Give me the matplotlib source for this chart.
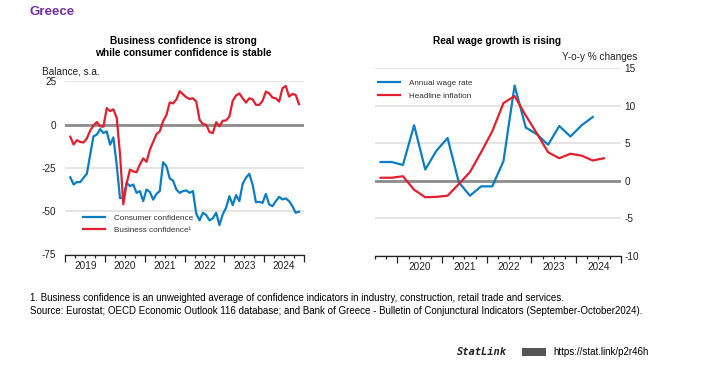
import numpy as np
import pandas as pd
import matplotlib
matplotlib.use("Agg")
import matplotlib.pyplot as plt
from matplotlib.patches import Rectangle

plt.rcParams['font.family'] = ['Liberation Sans', 'DejaVu Sans']
plt.rcParams['axes.unicode_minus'] = False

BLUE = '#0b7dc3'
RED = '#e0202e'

# ---- data: monthly confidence balances, Feb 2019 - Nov 2024 ----
consumer_conf = [-30.4, -34.6, -33.2, -33.2, -30.7, -28.4, -17.4, -6.8, -5.8, -2.6,
                 -4.9, -3.9, -11.6, -7.4, -23.1, -42.5, -42.0, -33.6, -35.5, -34.6,
                 -39.4, -38.4, -44.2, -37.5, -38.9, -43.3, -40.0, -38.4, -21.7, -24.0,
                 -31.1, -32.3, -37.5, -39.4, -38.4, -38.0, -39.4, -38.4, -51.5, -55.3,
                 -50.9, -52.2, -55.3, -54.1, -50.9, -58.0, -51.8, -48.0, -41.3, -46.5,
                 -40.7, -44.2, -34.2, -30.7, -28.4, -34.6, -44.8, -44.6, -45.2, -40.0,
                 -46.1, -47.1, -44.2, -41.7, -43.2, -42.6, -44.2, -47.1, -50.9, -50.3]
business_conf = [-7.0, -11.5, -9.0, -10.0, -10.3, -8.0, -3.5, -0.5, 1.5, -1.0,
                 -1.2, 9.5, 7.8, 8.8, 4.0, -17.0, -46.0, -34.0, -26.0, -27.0,
                 -27.5, -23.0, -19.5, -21.5, -14.5, -10.0, -5.5, -3.8, 2.0, 5.5,
                 12.8, 12.2, 14.5, 19.3, 17.5, 15.8, 14.8, 15.2, 13.3, 2.8,
                 0.3, -0.1, -4.3, -4.9, 1.4, -1.0, 2.2, 2.4, 4.7, 13.7,
                 16.8, 18.0, 15.2, 12.7, 15.2, 14.6, 11.4, 11.4, 13.7, 19.0,
                 18.0, 15.6, 15.2, 13.3, 21.0, 22.3, 16.2, 17.7, 17.1, 11.8]

# ---- data: quarterly y-o-y % changes, from 2019Q3 ----
wage_rate = [2.5, 2.5, 2.1, 7.4, 1.5, 4.0, 5.7, -0.2, -2.0, -0.75,
             -0.75, 2.6, 12.7, 7.1, 6.2, 4.8, 7.3, 5.9, 7.4, 8.5]
inflation = [0.4, 0.4, 0.6, -1.2, -2.2, -2.15, -2.0, -0.45, 1.15, 3.8,
             6.6, 10.35, 11.3, 8.7, 6.3, 3.8, 3.0, 3.6, 3.35, 2.7, 3.0]

years = [2019, 2020, 2021, 2022, 2023, 2024]

months = pd.date_range('2019-02-01', periods=len(consumer_conf), freq='MS')
t_month = months.year + (months.month - 0.5) / 12
quarters = pd.period_range('2019Q3', periods=len(inflation), freq='Q')
t_quarter = quarters.year + (quarters.quarter - 0.5) / 4

W, H = 705, 373
fig = plt.figure(figsize=(W / 100, H / 100), dpi=100)


def px(x, y):
    return x / W, 1 - y / H


def style_axes(ax, x0, x1, label_years):
    for s in ['top', 'left', 'right']:
        ax.spines[s].set_visible(False)
    ax.spines['bottom'].set_color('#222222')
    ax.spines['bottom'].set_linewidth(0.9)
    ax.set_xlim(x0, x1)
    ax.set_xticks(np.arange(np.ceil(x0), x1 + 0.01, 1))
    ax.set_xticks(np.arange(x0, x1 + 0.01, 0.25), minor=True)
    ax.tick_params(axis='x', which='major', length=5, width=0.9, color='#222222', labelbottom=False)
    ax.tick_params(axis='x', which='minor', length=2.5, width=0.9, color='#222222')
    ax.tick_params(axis='y', length=0, labelsize=7.2, colors='#222222')
    ax.grid(axis='y', color='#dedede', lw=1.1)
    ax.set_axisbelow(True)
    ax.axhline(0, color='#8c8c8c', lw=2.0, zorder=1.5)
    for yr in label_years:
        ax.text(yr + 0.5, -0.035, str(yr), transform=ax.get_xaxis_transform(),
                ha='center', va='top', fontsize=7.2, color='#222222')


leg_kw = dict(loc='upper left', frameon=False, fontsize=5.9, handlelength=2.7,
              handletextpad=1.1, labelspacing=0.6, borderpad=0, borderaxespad=0,
              labelcolor='#333333')

# ---- left panel ----
axl = fig.add_axes([65.3 / W, 1 - 254.5 / H, 238.7 / W, 173.2 / H])
style_axes(axl, 2019, 2025, years)
axl.set_ylim(-75, 25)
axl.set_yticks([-75, -50, -25, 0, 25])
axl.tick_params(axis='y', pad=6.5)
axl.plot(t_month, consumer_conf, color=BLUE, lw=1.6, label='Consumer confidence', zorder=3)
axl.plot(t_month, business_conf, color=RED, lw=1.6, label='Business confidence\u00b9', zorder=3)
axl.legend(bbox_to_anchor=(0.074, 0.235), **leg_kw)

# ---- right panel ----
axr = fig.add_axes([375 / W, 1 - 255.7 / H, 245.7 / W, 187.4 / H])
style_axes(axr, 2019.5, 2025, years[1:])
axr.set_ylim(-10, 15)
axr.set_yticks([-10, -5, 0, 5, 10, 15])
axr.yaxis.tick_right()
axr.tick_params(axis='y', pad=2.5)
axr.plot(t_quarter[:len(wage_rate)], wage_rate, color=BLUE, lw=1.6, label='Annual wage rate', zorder=3)
axr.plot(t_quarter, inflation, color=RED, lw=1.6, label='Headline inflation', zorder=3)
axr.legend(bbox_to_anchor=(0.012, 0.94), **leg_kw)

# ---- texts ----
fig.text(*px(30, 12), 'Greece', fontsize=9.6, fontweight='bold', color='#7030a0', va='center')
fig.text(*px(183, 47), 'Business confidence is strong\nwhile consumer confidence is stable',
         fontsize=7.3, fontweight='bold', ha='center', va='center', linespacing=1.25)
fig.text(*px(497, 41), 'Real wage growth is rising', fontsize=7.3, fontweight='bold',
         ha='center', va='center')
fig.text(*px(42, 71), 'Balance, s.a.', fontsize=7.2, va='center', color='#222222')
fig.text(*px(637, 57), 'Y-o-y % changes', fontsize=7.2, va='center', ha='right', color='#222222')

fig.text(*px(30, 298), '1. Business confidence is an unweighted average of confidence indicators in '
         'industry, construction, retail trade and services.', fontsize=7.05, va='center')
fig.text(*px(30, 311), 'Source: Eurostat; OECD Economic Outlook 116 database; and Bank of Greece - '
         'Bulletin of Conjunctural Indicators (September-October2024).', fontsize=7.05,
         va='center')

fig.text(*px(457, 352), 'StatLink', fontsize=7.5, family='DejaVu Sans Mono', fontweight='bold',
         fontstyle='italic', va='center', color='#222222')
fig.patches.append(Rectangle(px(522, 356), 24 / W, 8 / H, transform=fig.transFigure,
                             facecolor='#555555', edgecolor='none'))
fig.text(*px(553, 352), 'https://stat.link/p2r46h', fontsize=7.0, va='center')

fig.savefig('out.png', dpi=100)
